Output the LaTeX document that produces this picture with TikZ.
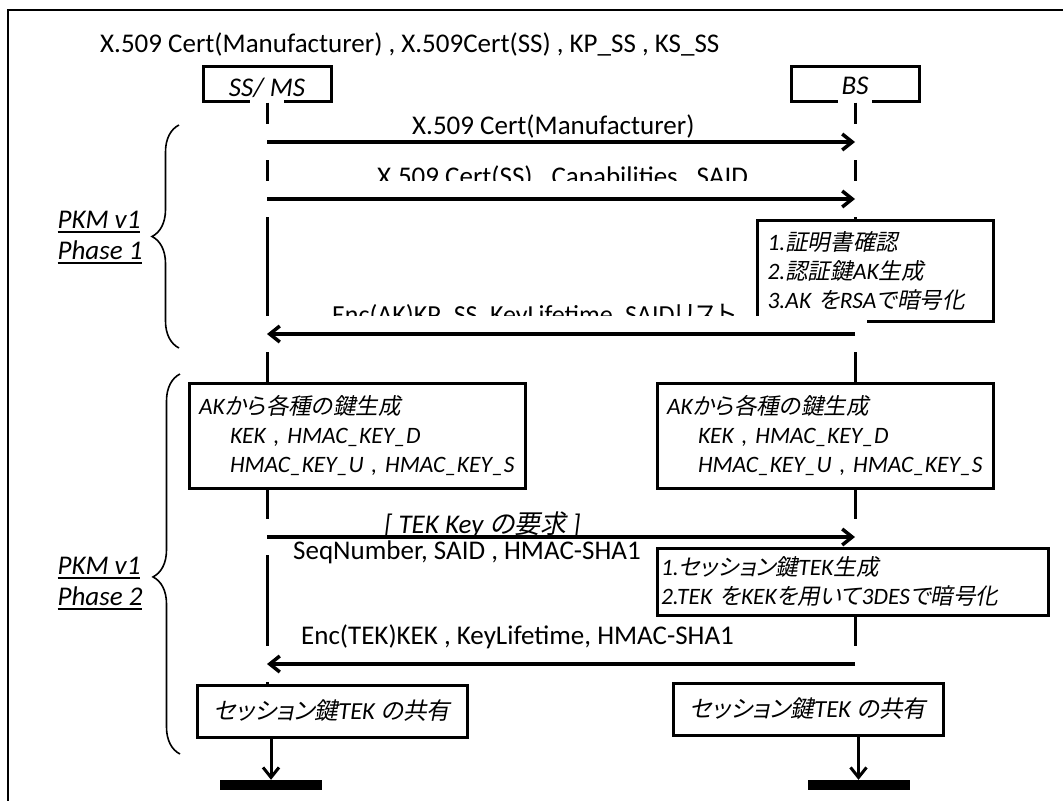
\documentclass[tikz,border=0pt]{standalone}
\usepackage{fontspec}
\setmainfont{Carlito}
\newfontfamily\jpup[Scale=0.96,RawFeature=+palt]{Noto Sans CJK JP}
\newfontfamily\jpit[Scale=0.96,RawFeature=+palt,FakeSlant=0.2]{Noto Sans CJK JP}
\newcommand{\ju}[1]{{\jpup #1}}
\newcommand{\ji}[1]{{\jpit #1}}
\newcommand{\uln}[1]{\vtop{\hbox{#1}\kern2pt\hrule height2pt}}
\usetikzlibrary{arrows.meta,decorations.pathreplacing}

\begin{document}
\begin{tikzpicture}[x=1pt,y=-1pt,
	actor/.style={draw,line width=3pt,minimum width=128pt,minimum height=35pt,inner ysep=2pt,text depth=0pt,font=\itshape\fontsize{27}{32}\selectfont},
	life/.style={line width=3pt,preaction={draw=white,line width=34pt,shorten <=-4pt}},
	msg/.style={line width=3.5pt,-{Straight Barb[length=10pt,width=16pt]},preaction={draw=white,line width=36pt,arrows=-,shorten <=-12pt,shorten >=-12pt}},
	txt/.style={inner sep=0pt,anchor=base west,font=\fontsize{27}{32}\selectfont},
	note/.style={draw,fill=white,line width=3pt,align=left,inner xsep=10pt,font=\itshape\fontsize{23.5}{29}\selectfont},
	share/.style={draw,fill=white,line width=3pt,minimum width=270pt,minimum height=52pt,font=\itshape\fontsize{24.5}{29}\selectfont},
	bar/.style={fill=black,inner sep=0pt,minimum width=102pt,minimum height=10pt},
	down/.style={line width=3pt,-{Straight Barb[length=10pt,width=16pt]}},
	phase/.style={decorate,decoration={brace,amplitude=27pt,aspect=#1},line width=1.6pt},
	pkm/.style={align=left,font=\itshape\fontsize{27}{31}\selectfont}]
	\useasboundingbox (0,0) rectangle (1063,801);
	%cadre
	\draw[line width=2pt] (1063,10) -- (8,10) -- (8,801);
	\node[txt] (keys) at (100,52) {X.509 Cert(Manufacturer) , X.509Cert(SS) , KP\_SS , KS\_SS};
	%entites et lignes de vie
	\node[actor,text height=25pt] (ss) at (267,83.5) {SS/ MS};
	\node[actor,text height=21pt] (bs) at (855,83.5) {BS};
	\coordinate (ssEnd) at (267,700);
	\coordinate (bsEnd) at (855,700);
	\draw[life] (ss.south) -- (ssEnd);
	\draw[life] (bs.south) -- (bsEnd);
	\foreach \n/\y in {1/142,2/199,3/334,4/537,5/664}{
		\coordinate (a\n) at (267,\y);
		\coordinate (b\n) at (855,\y);}
	%cles derivees de AK
	\node[note,text width=316pt,minimum height=105pt] (akL) at (357,435.5) {AK\ji{から各種の鍵生成}\\\hspace*{31pt}\mbox{KEK , HMAC\_KEY\_D}\\\hspace*{31pt}\mbox{HMAC\_KEY\_U , HMAC\_KEY\_S}};
	\node[note,text width=316pt,minimum height=105pt] (akR) at (825,435.5) {AK\ji{から各種の鍵生成}\\\hspace*{31pt}\mbox{KEK , HMAC\_KEY\_D}\\\hspace*{31pt}\mbox{HMAC\_KEY\_U , HMAC\_KEY\_S}};
	%phase 1
	\node[txt] (m2) at (377,185) {X.509 Cert(SS) , Capabilities , SAID};
	\draw[msg] (a1) -- (b1);
	\node[txt] (m1) at (412,134) {X.509 Cert(Manufacturer)};
	\draw[msg] (a2) -- (b2);
	\node[txt,font=\fontsize{26}{32}\selectfont] (m3) at (332,323) {Enc(AK)KP\_SS, KeyLifetime, SAID\ju{リスト}};
	\node[note,text width=215pt,inner xsep=10.5pt,minimum height=101pt] (c1) at (875,270.5) {1.\ji{証明書確認}\\2.\ji{認証鍵}AK\ji{生成}\\3.AK \ji{を}RSA\ji{で暗号化}};
	\draw[msg] (b3) -- (a3);
	%phase 2
	\draw[msg] (a4) -- (b4);
	\node[txt] (m4) at (384,533) {\itshape [ TEK Key \ji{の要求} ]};
	\node[txt] (m4b) at (293,559) {SeqNumber, SAID , HMAC-SHA1};
	\node[note,text width=383pt,inner xsep=4pt,minimum height=67pt] (c2) at (852.5,581.5) {1.\ji{セッション鍵}TEK\ji{生成}\\2.TEK \ji{を}KEK\ji{を用いて}3DES\ji{で暗号化}};
	\draw[msg] (b5) -- (a5);
	\node[txt] (m5) at (301,644) {Enc(TEK)KEK , KeyLifetime, HMAC-SHA1};
	\node[share] (kyL) at (332,711) {\ji{セッション鍵}TEK \ji{の共有}};
	\node[share] (kyR) at (808,709) {\ji{セッション鍵}TEK \ji{の共有}};
	\node[bar] (barL) at (271,785) {};
	\node[bar] (barR) at (858.5,785) {};
	\draw[down] (barL.north |- kyL.south) -- (barL.north);
	\draw[down] (barR.north |- kyR.south) -- (barR.north);
	%accolades
	\draw[phase=0.5] (179,348) -- (179,125);
	\draw[phase=0.466] (180,754) -- (180,374);
	\node[pkm] (p1) at (100,237.5) {\uln{PKM v1}\\\uln{Phase 1}};
	\node[pkm] (p2) at (100,583.5) {\uln{PKM v1}\\\uln{Phase 2}};
\end{tikzpicture}
\end{document}
